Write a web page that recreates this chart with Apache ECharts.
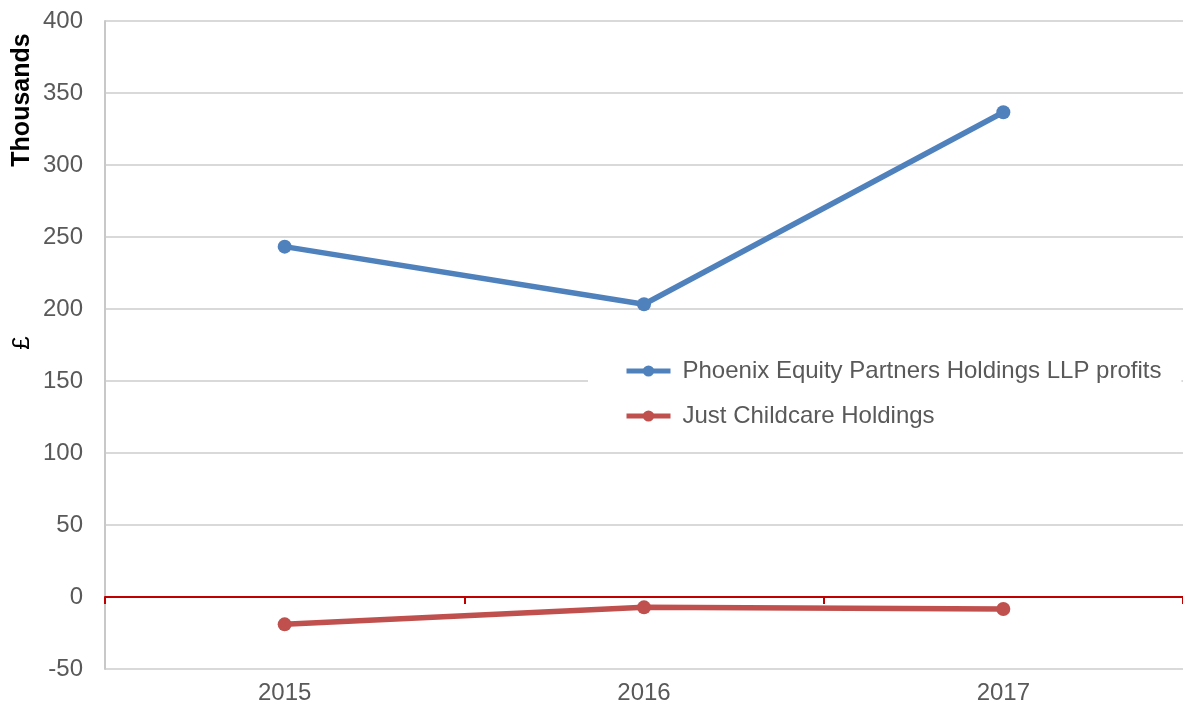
<!DOCTYPE html>
<html>
<head>
<meta charset="utf-8">
<script src="https://cdn.jsdelivr.net/npm/echarts@6/dist/echarts.min.js"></script>
<style>
    html, body {margin: 0; padding: 0; background: #fff;}
    #chart {width: 1183px; height: 711px;}
</style>
</head>
<body>
<div id="chart"></div>
<script>
const years = ['2015', '2016', '2017'];
const phoenixProfits = [243.3, 203.3, 336.6];
const justChildcare = [-19.0, -7.2, -8.3];
const seriesNames = ['Phoenix Equity Partners Holdings LLP profits', 'Just Childcare Holdings'];
const seriesColors = ['#4F81BD', '#C0504D'];

const font = '"Liberation Sans", Arial, sans-serif';
const chart = echarts.init(document.getElementById('chart'), null, {renderer: 'canvas'});

function lineSeries(name, data, color) {
    return {
        name,
        type: 'line',
        data,
        symbol: 'circle',
        symbolSize: 14,
        showSymbol: true,
        z: 5,
        lineStyle: {color, width: 5.5},
        itemStyle: {color},
        emphasis: {disabled: true},
        animation: false,
    };
}

chart.setOption({
    animation: false,
    grid: {left: 105, right: 0, top: 21, bottom: 42, containLabel: false},
    legend: {
        orient: 'vertical',
        left: 588,
        top: 347,
        padding: [10, 20, 10, 36],
        backgroundColor: '#fff',
        itemWidth: 44,
        itemHeight: 14,
        itemGap: 17,
        lineStyle: {width: 5},
        textStyle: {fontFamily: font, fontSize: 24, color: '#595959', lineHeight: 28, padding: [0, 0, 0, 7]},
        data: seriesNames,
    },
    xAxis: [{
        type: 'category',
        data: years,
        position: 'bottom',
        axisLine: {show: false, onZero: false},
        axisTick: {show: false},
        axisLabel: {fontFamily: font, fontSize: 24, color: '#595959', margin: 12},
        splitLine: {show: false},
    }, {
        type: 'category',
        data: years,
        position: 'bottom',
        axisLine: {show: true, onZero: true, lineStyle: {color: '#C00000', width: 2}},
        axisTick: {show: true, length: 7, lineStyle: {color: '#C00000', width: 2}},
        axisLabel: {show: false},
        splitLine: {show: false},
    }],
    yAxis: {
        type: 'value',
        min: -50,
        max: 400,
        interval: 50,
        axisLine: {show: true, lineStyle: {color: '#C8C8C8', width: 2}},
        axisTick: {show: false},
        axisLabel: {fontFamily: font, fontSize: 24, color: '#595959', margin: 22},
        splitLine: {lineStyle: {color: '#D9D9D9', width: 2}},
    },
    graphic: [{
        type: 'text',
        x: 22,
        y: 100,
        rotation: Math.PI / 2,
        style: {text: 'Thousands', font: 'bold 25px ' + font, fill: '#000', align: 'center', verticalAlign: 'middle'},
    }, {
        type: 'text',
        x: 22,
        y: 343,
        rotation: Math.PI / 2,
        style: {text: '£', font: '24px ' + font, fill: '#000', align: 'center', verticalAlign: 'middle'},
    }],
    series: [
        lineSeries(seriesNames[0], phoenixProfits, seriesColors[0]),
        lineSeries(seriesNames[1], justChildcare, seriesColors[1]),
    ],
});
</script>
</body>
</html>
